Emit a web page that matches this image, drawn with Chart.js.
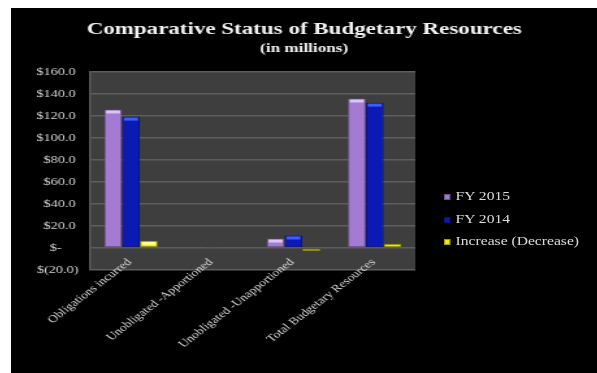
<!DOCTYPE html>
<html>
<head>
<meta charset="utf-8">
<title>Comparative Status of Budgetary Resources</title>
<script src="https://cdn.jsdelivr.net/npm/chart.js@4.4.0/dist/chart.umd.min.js"></script>
<style>
    html, body { margin: 0; padding: 0; background: #fff; }
    #frame { position: absolute; left: 11px; top: 8px; width: 586px; height: 365px; background: #000; overflow: hidden; }
    /* the whole slide is drawn a bit narrow and then widened */
    #stretch { position: absolute; left: 0; top: 0; width: 451px; height: 365px; transform: scaleX(1.3); transform-origin: 0 0; }
    #legend { position: absolute; left: 333px; top: 177px; font-family: 'Liberation Serif', serif; font-size: 12px; color: #dcdcdc; }
    #legend div { height: 22.5px; line-height: 22.5px; white-space: nowrap; }
    #legend span { display: inline-block; width: 5px; height: 6px; margin-right: 4px; vertical-align: 0px; box-sizing: border-box; border: 1px solid rgba(0,0,0,0.35); }
</style>
</head>
<body>
<div id="frame">
    <div id="stretch">
        <canvas id="myChart" width="451" height="365"></canvas>
        <div id="legend"></div>
    </div>
</div>
<script>
// categories and series (in millions)
const categories = ['Obligations incurred', 'Unobligated -Apportioned', 'Unobligated -Unapportioned', 'Total Budgetary Resources'];
const seriesNames = ['FY 2015', 'FY 2014', 'Increase (Decrease)'];
const fy2015 = [126, 1.0, 8.6, 136];
const fy2014 = [119.5, 0.4, 11.4, 132.2];
const change = [6.5, 0.6, -2.8, 3.8];
const yMin = -20;
const yMax = 160;
const yStep = 20;

const fills = ['#a47bd2', '#0b1ab4', '#eeee00'];
const edges = ['#6e5292', '#05107a', '#8c8c00'];
const caps = ['#dcc4f6', '#3d5cff', '#ffff90'];

// accounting style money labels
function money(v) {
    if (v === 0) return '$-    \u2009';
    if (v < 0) return '$(' + Math.abs(v).toFixed(1) + ')';
    return '$' + v.toFixed(1) + '\u2009';
}

// grey plot wall
const plotBackground = {
    id: 'plotBackground',
    beforeDraw: function (chart) {
        const a = chart.chartArea;
        const ctx = chart.ctx;
        ctx.save();
        ctx.fillStyle = '#3e3e3e';
        ctx.fillRect(a.left, a.top, a.right - a.left, a.bottom - a.top);
        ctx.restore();
    }
};

// light band on top of each column
const barCaps = {
    id: 'barCaps',
    afterDatasetsDraw: function (chart) {
        const ctx = chart.ctx;
        ctx.save();
        chart.data.datasets.forEach(function (ds, i) {
            chart.getDatasetMeta(i).data.forEach(function (bar) {
                const top = Math.min(bar.y, bar.base);
                const h = Math.abs(bar.base - bar.y);
                if (h < 4) return;
                ctx.fillStyle = caps[i];
                ctx.fillRect(bar.x - bar.width / 2 + 1.5, top + 1, bar.width - 3, 3);
            });
        });
        ctx.restore();
    }
};

var ctx = document.getElementById('myChart').getContext('2d');
var chart = new Chart(ctx, {
    type: 'bar',
    data: {
        labels: categories,
        datasets: [fy2015, fy2014, change].map(function (values, i) {
            return {
                label: seriesNames[i],
                data: values,
                backgroundColor: fills[i],
                borderColor: edges[i],
                borderWidth: 1,
                borderSkipped: false,
                categoryPercentage: 0.66,
                barPercentage: 1.0
            };
        })
    },
    options: {
        responsive: false,
        animation: false,
        devicePixelRatio: 1,
        layout: { padding: 0 },
        plugins: {
            legend: { display: false },
            tooltip: { enabled: false },
            title: {
                display: true,
                text: 'Comparative Status of Budgetary Resources',
                color: '#f2f2f2',
                font: { family: 'Liberation Serif', size: 17.7, weight: 'bold' },
                padding: { top: 11, bottom: 0 }
            },
            subtitle: {
                display: true,
                text: '(in millions)',
                color: '#f2f2f2',
                font: { family: 'Liberation Serif', size: 13.2, weight: 'bold' },
                padding: { top: 0, bottom: 16 }
            }
        },
        scales: {
            x: {
                grid: { display: false },
                border: { display: false },
                ticks: {
                    color: '#d8d8d8',
                    font: { family: 'Liberation Serif', size: 10.5 },
                    minRotation: 45,
                    maxRotation: 45,
                    autoSkip: false,
                    // mirror keeps the labels from being clipped where they run over the wall
                    // (in mirror mode the padding pulls the labels up)
                    mirror: true,
                    padding: 5,
                    labelOffset: 8
                },
                afterFit: function (scale) { scale.height = 103; }
            },
            y: {
                min: yMin,
                max: yMax,
                grid: { color: '#5e5e5e', lineWidth: 1.5, drawTicks: false },
                border: { display: true, color: '#5a5a5a', width: 1.5 },
                ticks: {
                    stepSize: yStep,
                    color: '#d4d4d4',
                    font: { family: 'Liberation Serif', size: 11 },
                    padding: 9,
                    callback: function (v) { return money(v); }
                },
                afterFit: function (scale) { scale.width = 61; }
            },
            // empty axis that keeps the right side free for the legend
            legendSpace: {
                type: 'linear',
                position: 'right',
                grid: { display: false },
                border: { display: false },
                ticks: { display: false },
                afterFit: function (scale) { scale.width = 140; }
            }
        }
    },
    plugins: [plotBackground, barCaps]
});

// legend
var legend = document.getElementById('legend');
chart.data.datasets.forEach(function (ds, i) {
    var row = document.createElement('div');
    var box = document.createElement('span');
    box.style.background = fills[i];
    row.appendChild(box);
    row.appendChild(document.createTextNode(ds.label));
    legend.appendChild(row);
});
</script>
</body>
</html>
